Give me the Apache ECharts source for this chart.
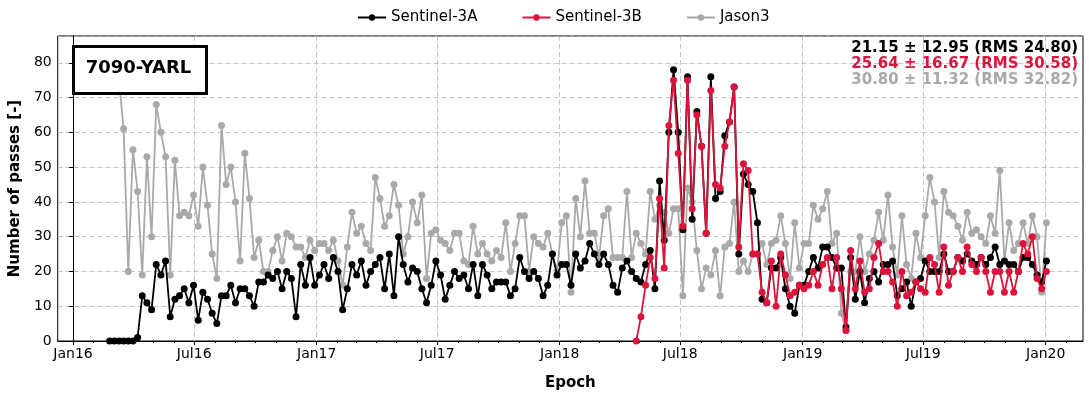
<!DOCTYPE html>
<html><head><meta charset="utf-8">
<script src="https://cdn.jsdelivr.net/npm/echarts@6/dist/echarts.min.js"></script>
<style>html,body{margin:0;padding:0;background:#fff}#c{width:1089px;height:396px}</style>
</head><body><div id="c"></div>
<script>
// ---- data (weekly epochs) ----
const firstEpoch = [2016, 1, 25];   // 2016-02-25, weekly sampling
const s3aStart = 0;
const s3a = [0,0,0,0,0,0,1,13,11,9,22,19,23,7,12,13,15,11,16,6,14,12,8,
5,13,13,16,11,15,15,13,10,17,17,19,18,20,15,20,18,7,22,16,24,16,19,
22,18,24,20,9,15,22,19,23,16,20,22,24,15,25,13,30,22,17,21,20,15,11,16,
23,19,12,16,20,18,19,15,22,13,22,19,15,17,17,17,13,15,24,20,18,20,18,
13,16,25,19,22,22,16,25,21,23,28,25,22,25,22,16,14,21,23,20,18,17,22,26,
15,46,29,60,78,60,32,76,35,66,56,31,76,41,43,59,63,73,25,48,45,43,34,
12,11,21,21,24,15,10,8,16,16,20,24,21,27,27,24,21,21,4,24,12,20,11,18,
20,17,22,22,23,13,15,17,10,17,18,23,20,20,20,25,20,20,24,23,25,23,22,
24,22,24,27,22,23,22,22,20,24,24,22,19,17,23];
const s3bStart = 113;
const s3b = [0,7,16,24,
18,41,21,62,75,54,33,75,38,65,56,31,72,45,44,56,63,73,27,51,49,25,25,
14,11,23,10,25,19,13,14,16,15,16,20,16,22,24,15,24,15,3,26,15,23,14,15,
24,28,20,20,17,10,20,13,14,17,15,14,24,22,14,27,16,20,24,20,27,22,20,
24,20,14,20,20,14,20,14,20,28,25,30,18,15,20];
const jasonStart = 2;
const jason3 = [75,61,20,55,43,19,53,30,68,60,53,19,52,36,37,36,42,33,50,39,25,
18,62,45,50,40,23,54,41,24,29,20,20,26,30,23,31,30,27,27,24,29,26,28,
28,26,29,23,16,27,37,31,33,28,26,47,41,33,36,45,39,25,30,40,34,42,18,31,
32,29,28,26,31,31,23,22,33,25,28,25,23,26,24,34,20,28,36,36,20,30,28,
27,31,25,20,34,36,14,41,30,46,31,31,24,36,38,24,24,24,43,24,31,28,25,43,
35,39,37,31,38,38,13,44,40,26,15,21,19,26,13,27,28,40,20,23,20,25,25,
28,22,28,29,36,28,18,34,21,28,28,39,35,38,43,28,31,8,3,20,20,30,20,25,
29,37,29,42,27,19,36,22,18,31,24,36,47,40,24,43,37,36,33,29,37,31,32,
30,28,36,31,49,23,34,26,28,34,28,36,30,14,34];
const seriesNames = ['Sentinel-3A','Sentinel-3B','Jason3'];
const tickLabels = ['Jan16','Jul16','Jan17','Jul17','Jan18','Jul18','Jan19','Jul19','Jan20'];
const yTicks = [0,10,20,30,40,50,60,70,80];
const stats = ['21.15 \u00b1 12.95 (RMS 24.80)','25.64 \u00b1 16.67 (RMS 30.58)','30.80 \u00b1 11.32 (RMS 32.82)'];
const station = '7090-YARL';

// ---- helpers ----
const DAY = 86400000;
const T0 = Date.UTC(2016,0,1);
const dayOf = (y,m,d) => (Date.UTC(y,m,d) - T0)/DAY;
const epoch0 = dayOf(firstEpoch[0], firstEpoch[1], firstEpoch[2]);
const build = (arr, start) => arr.map((v,i) => [epoch0 + 7*(start+i), v]);
const majorVals = tickLabels.map(t => {
  const m = t.startsWith('Jan') ? 0 : 6; const y = 2000 + parseInt(t.slice(3));
  return dayOf(y,m,1);
});
const minorVals = [];
for (let y=2016; y<=2020; y++) for (let m=0; m<12; m++) { const d = dayOf(y,m,1); if (d <= 1517) minorVals.push(d); }

const colors = ['#000000','#dc143c','#a9a9a9'];
const FONT = 'DejaVu Sans';
const chart = echarts.init(document.getElementById('c'), null, {renderer:'canvas'});
const mk = (name, data, color, z) => ({
  name, type:'line', data, z, symbol:'circle', symbolSize:7, showSymbol:true,
  itemStyle:{color}, lineStyle:{color, width:1.8}, animation:false, emphasis:{disabled:true}
});
chart.setOption({
  animation:false,
  legend:{top:5, left:352, data:seriesNames, itemWidth:28, itemHeight:8, itemGap:44,
    textStyle:{fontFamily:FONT, fontSize:15, color:'#000'}},
  grid:{left:55, right:6, top:36, bottom:52, show:true, borderColor:'#000', borderWidth:1, backgroundColor:'transparent'},
  xAxis:[{
    type:'value', min:-23, max:1517,
    axisLine:{onZero:false, lineStyle:{color:'#000', width:1}},
    axisTick:{customValues:majorVals, length:4, lineStyle:{color:'#000'}},
    axisLabel:{customValues:majorVals, color:'#000', fontFamily:FONT, fontSize:14, margin:6,
      formatter: v => { const i = majorVals.indexOf(v); return i>=0 ? tickLabels[i] : ''; }},
    splitLine:{show:true, lineStyle:{color:'#b5b5b5', type:[5,3], width:0.8}},
    name:'Epoch', nameLocation:'middle', nameGap:35,
    nameTextStyle:{fontFamily:FONT, fontSize:15, fontWeight:'bold', color:'#000'}
  },{
    type:'value', min:-23, max:1517, position:'bottom',
    axisLine:{show:false}, axisTick:{customValues:minorVals, length:2, lineStyle:{color:'#000'}},
    axisLabel:{show:false}, splitLine:{show:false}
  }],
  yAxis:{
    type:'value', min:0, max:87.7, interval:10,
    axisLine:{show:true, lineStyle:{color:'#000'}},
    axisTick:{show:true, length:4, lineStyle:{color:'#000'}},
    axisLabel:{color:'#000', fontFamily:FONT, fontSize:14, margin:6, showMaxLabel:false,
      formatter: v => yTicks.includes(v) ? String(v) : ''},
    splitLine:{show:true, lineStyle:{color:'#b5b5b5', type:[5,3], width:0.8}},
    name:'Number of passes [-]', nameLocation:'middle', nameGap:32,
    nameTextStyle:{fontFamily:FONT, fontSize:15, fontWeight:'bold', color:'#000'}
  },
  series:[
    mk(seriesNames[2], build(jason3, jasonStart), colors[2], 2),
    mk(seriesNames[0], build(s3a, s3aStart), colors[0], 3),
    mk(seriesNames[1], build(s3b, s3bStart), colors[1], 4)
  ],
  graphic:[
    {type:'rect', left:72, top:45, shape:{width:133, height:47}, style:{fill:'#fff', stroke:'#000', lineWidth:3}, z:100},
    {type:'text', x:138.5, y:68.5, style:{text:station, font:'bold 18px "DejaVu Sans"', fill:'#000', align:'center', verticalAlign:'middle'}, z:101},
    {type:'text', x:1078, y:48, style:{text:stats[0], font:'bold 15px "DejaVu Sans"', fill:colors[0], align:'right', verticalAlign:'middle'}, z:101},
    {type:'text', x:1078, y:64, style:{text:stats[1], font:'bold 15px "DejaVu Sans"', fill:colors[1], align:'right', verticalAlign:'middle'}, z:101},
    {type:'text', x:1078, y:80, style:{text:stats[2], font:'bold 15px "DejaVu Sans"', fill:colors[2], align:'right', verticalAlign:'middle'}, z:101}
  ]
});
</script></body></html>
